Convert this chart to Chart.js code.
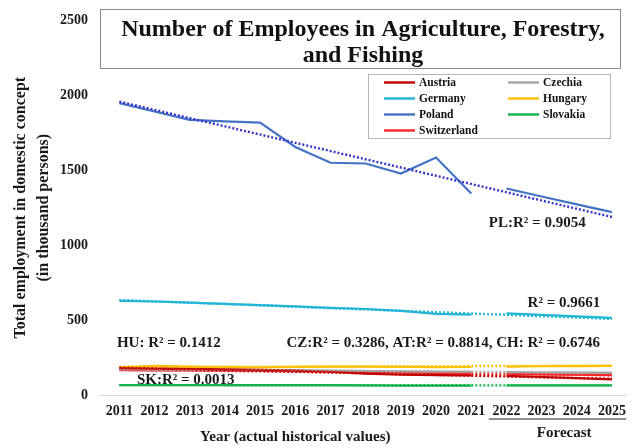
<!DOCTYPE html>
<html>
<head>
<meta charset="utf-8">
<title>Number of Employees in Agriculture, Forestry, and Fishing</title>
<script src="https://cdn.jsdelivr.net/npm/chart.js@4.4.1/dist/chart.umd.min.js"></script>
<style>
  html, body { margin: 0; padding: 0; background: #fff; overflow: hidden; }
  #wrap { position: relative; width: 634px; height: 448px; }
</style>
</head>
<body>
<div id="wrap"><canvas id="chart"></canvas></div>
<script>
// years on the x axis (2011-2021 actual, 2022-2025 forecast)
const years = [2011, 2012, 2013, 2014, 2015, 2016, 2017, 2018, 2019, 2020, 2021, 2022, 2023, 2024, 2025];
const lastActualYear = 2021;

const countries = ['Austria', 'Czechia', 'Germany', 'Hungary', 'Poland', 'Slovakia', 'Switzerland'];

// thousand persons
const austria     = [178, 176, 174, 171, 168, 163, 155, 142, 135, 133, 131, 128, 120, 112, 104];
const czechia     = [172, 170, 168, 168, 166, 165, 163, 160, 158, 156, 155, 152, 150, 149, 148];
const germany     = [628, 624, 616, 608, 600, 592, 582, 574, 562, 542, 536, 545, 535, 525, 515];
const hungary     = [186, 194, 190, 186, 185, 188, 190, 190, 188, 186, 187, 190, 192, 193, 195];
const poland      = [1948, 1892, 1836, 1826, 1818, 1655, 1550, 1545, 1478, 1585, 1345, 1378, 1325, 1272, 1220];
const slovakia    = [66, 66, 66, 66, 66, 66, 66, 64, 62, 62, 62, 64, 64, 64, 64];
const switzerland = [166, 165, 164, 163, 162, 160, 158, 154, 150, 148, 146, 142, 138, 135, 132];

// linear trend lines, value at 2011 and at 2025 (same order as countries)
const trendStart = [182, 172, 634, 186, 1958, 66, 168];
const trendEnd   = [108, 148, 508, 196, 1188, 64, 132];

const yTicks = [0, 500, 1000, 1500, 2000, 2500];

const colors = ['#c00000', '#a5a5a5', '#22b5d6', '#ffc000', '#4472c4', '#12b14c', '#ff2626'];
const trendColors = ['#c00000', '#a5a5a5', '#22b5d6', '#ffc000', '#3535c9', '#12b14c', '#ff2626'];

const series = [austria, czechia, germany, hungary, poland, slovakia, switzerland];
const gapIndex = years.indexOf(lastActualYear);
const serif = "'Liberation Serif', 'Times New Roman', serif";
const textColor = '#1a1a1a';

const datasets = [];
series.forEach(function (vals, i) {
    datasets.push({
        label: countries[i],
        data: vals.map(function (v, k) { return { x: years[k], y: v }; }),
        borderColor: colors[i],
        borderWidth: 2.2,
        pointRadius: 0,
        tension: 0,
        order: 2,
        segment: {
            borderColor: function (ctx) {
                return ctx.p0DataIndex === gapIndex ? 'rgba(0,0,0,0)' : undefined;
            }
        }
    });
});
series.forEach(function (vals, i) {
    datasets.push({
        label: countries[i] + ' trend',
        data: [
            { x: years[0], y: trendStart[i] },
            { x: years[years.length - 1], y: trendEnd[i] }
        ],
        borderColor: trendColors[i],
        borderWidth: 2.4,
        borderDash: [2, 2],
        pointRadius: 0,
        order: 1
    });
});

const notes = [
    { text: 'PL:R² = 0.9054', x: 2021.5, y: 1150 },
    { text: 'R² = 0.9661', x: 2022.6, y: 610 },
    { text: 'HU: R² = 0.1412', x: 2010.93, y: 346 },
    { text: 'CZ:R² = 0.3286, AT:R² = 0.8814, CH: R² = 0.6746', x: 2015.75, y: 346 },
    { text: 'SK:R² = 0.0013', x: 2011.5, y: 100 }
];

const decorPlugin = {
    id: 'decor',
    afterDraw: function (chart) {
        const ctx = chart.ctx;
        const xs = chart.scales.x;
        const ys = chart.scales.y;
        const area = chart.chartArea;
        ctx.save();

        // R² notes
        ctx.font = 'bold 15px ' + serif;
        ctx.fillStyle = textColor;
        ctx.textAlign = 'left';
        ctx.textBaseline = 'middle';
        notes.forEach(function (n) {
            ctx.fillText(n.text, xs.getPixelForValue(n.x), ys.getPixelForValue(n.y));
        });

        // x axis captions
        const histMid = (xs.getPixelForValue(years[0]) + xs.getPixelForValue(lastActualYear)) / 2;
        const foreMid = (xs.getPixelForValue(lastActualYear + 1) + xs.getPixelForValue(years[years.length - 1])) / 2;
        ctx.textAlign = 'center';
        ctx.font = 'bold 15px ' + serif;
        ctx.fillText('Year (actual historical values)', histMid, 437);
        ctx.fillText('Forecast', foreMid + 5, 433);
        ctx.strokeStyle = '#222';
        ctx.lineWidth = 1.2;
        ctx.beginPath();
        ctx.moveTo(xs.getPixelForValue(lastActualYear + 0.5), 419);
        ctx.lineTo(area.right, 419);
        ctx.stroke();

        // title box
        ctx.fillStyle = '#fff';
        ctx.fillRect(100, 9, 520, 59);
        ctx.strokeStyle = '#8c8c8c';
        ctx.lineWidth = 1;
        ctx.strokeRect(100.5, 9.5, 520, 59);
        ctx.fillStyle = '#111';
        ctx.font = 'bold 24px ' + serif;
        ctx.fillText('Number of Employees in Agriculture, Forestry,', 363, 30);
        ctx.fillText('and Fishing', 363, 56);

        // legend box, two columns
        const lx = 368, ly = 74, lw = 242, lh = 64;
        ctx.fillStyle = '#fff';
        ctx.fillRect(lx, ly, lw, lh);
        ctx.strokeStyle = '#b5b5b5';
        ctx.strokeRect(lx + 0.5, ly + 0.5, lw, lh);
        ctx.font = 'bold 11.5px ' + serif;
        ctx.textAlign = 'left';
        countries.forEach(function (name, i) {
            const col = i % 2, row = Math.floor(i / 2);
            const x0 = lx + 16 + col * 124;
            const y0 = ly + 8.5 + row * 16;
            ctx.strokeStyle = colors[i];
            ctx.lineWidth = 2.4;
            ctx.beginPath();
            ctx.moveTo(x0, y0);
            ctx.lineTo(x0 + 31, y0);
            ctx.stroke();
            ctx.fillStyle = '#111';
            ctx.fillText(name, x0 + 35, y0 + 0.5);
        });
        ctx.restore();
    }
};

const chart = new Chart(document.getElementById('chart'), {
    type: 'line',
    data: { datasets: datasets },
    options: {
        responsive: true,
        maintainAspectRatio: false,
        animation: false,
        layout: { padding: { top: 20, right: 0, bottom: 0, left: 0 } },
        plugins: {
            legend: { display: false },
            title: { display: false },
            tooltip: { enabled: false }
        },
        scales: {
            x: {
                type: 'linear',
                min: 2010.45,
                max: 2025.4,
                grid: { display: false, drawTicks: false },
                border: { display: true, color: '#d9d9d9', width: 1 },
                ticks: {
                    stepSize: 1,
                    includeBounds: false,
                    autoSkip: false,
                    maxRotation: 0,
                    padding: 8,
                    color: textColor,
                    font: { family: serif, size: 14, weight: 'bold' },
                    callback: function (v) { return String(v); }
                },
                afterFit: function (s) { s.height = 53; }
            },
            y: {
                min: 0,
                max: 2500,
                grid: { display: false, drawTicks: false },
                border: { display: false },
                afterBuildTicks: function (s) {
                    s.ticks = yTicks.map(function (v) { return { value: v }; });
                },
                ticks: {
                    padding: 12,
                    color: textColor,
                    font: { family: serif, size: 14, weight: 'bold' },
                    callback: function (v) { return String(v); }
                },
                title: {
                    display: true,
                    text: ['Total employment in domestic concept', '(in thousand persons)'],
                    color: textColor,
                    font: { family: serif, size: 16, weight: 'bold', lineHeight: 1.45 },
                    padding: { top: 9, bottom: 0 }
                },
                afterFit: function (s) { s.width = 100; }
            }
        }
    },
    plugins: [decorPlugin]
});
</script>
</body>
</html>
